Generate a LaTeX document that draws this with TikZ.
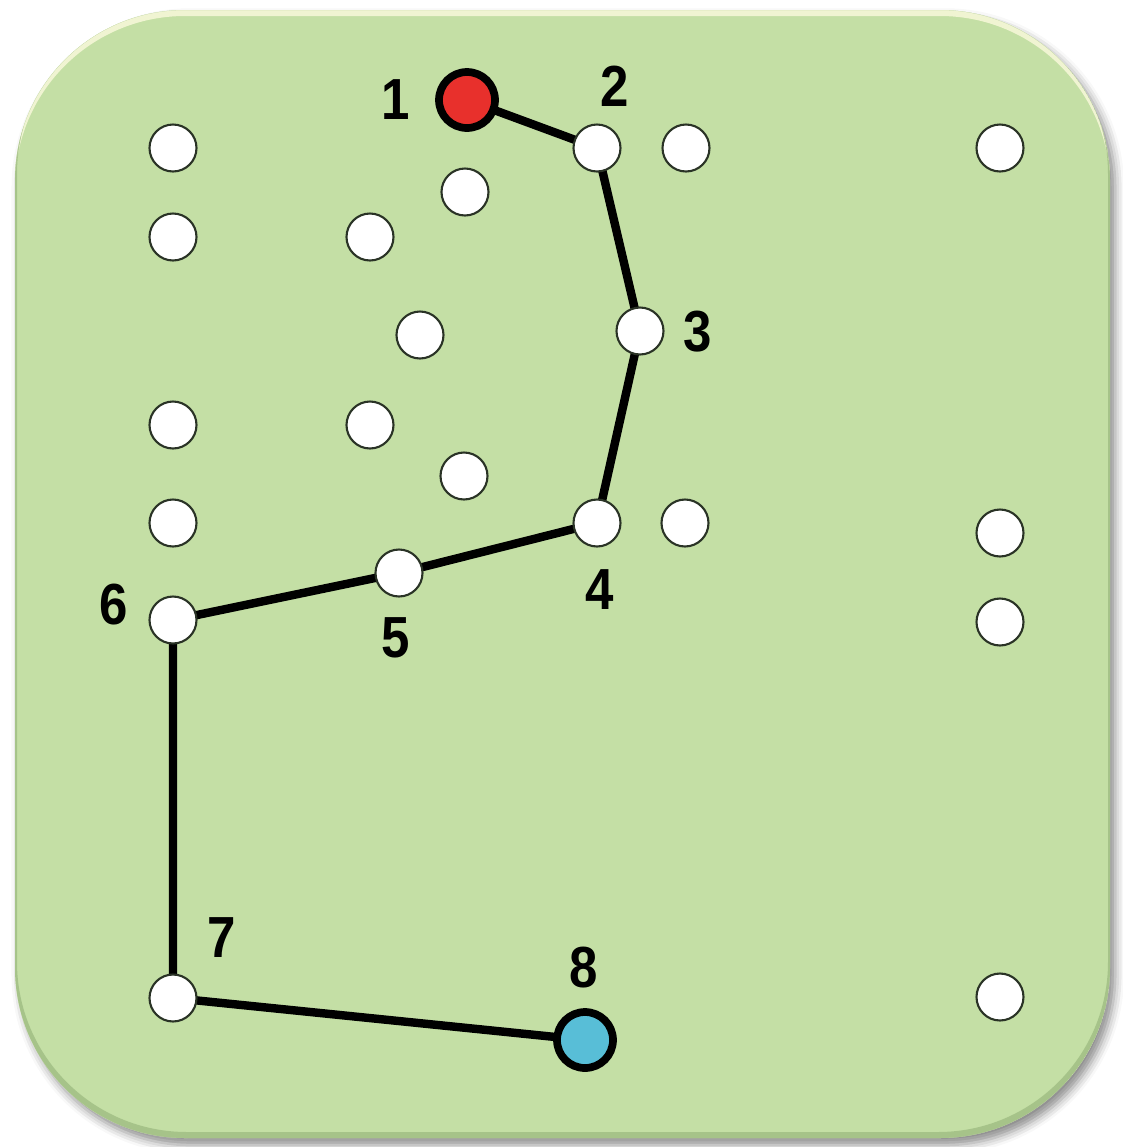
\documentclass[tikz,border=0pt]{standalone}
\usepackage{fontspec}
\newfontfamily\lblfont[FakeStretch=0.88]{Liberation Sans}
\usetikzlibrary{shadows.blur}
\definecolor{boardgreen}{HTML}{C4DFA5}
\definecolor{boardedge}{HTML}{9FBD83}
\definecolor{rim}{HTML}{F0F4D2}
\definecolor{pegred}{HTML}{E8302C}
\definecolor{pegblue}{HTML}{58BED7}
\definecolor{pegline}{HTML}{2A3326}
\pgfdeclarelayer{board}
\pgfdeclarelayer{edges}
\pgfsetlayers{board,edges,main}
\begin{document}
\begin{tikzpicture}[x=0.02cm,y=-0.02cm,
  hole/.style={circle,draw=pegline,line width=1.2pt,fill=white,
    minimum size=0.94cm,inner sep=0pt},
  startpeg/.style={circle,draw=black,line width=4.4pt,fill=pegred,
    minimum size=1.12cm,inner sep=0pt},
  endpeg/.style={circle,draw=black,line width=4.4pt,fill=pegblue,
    minimum size=1.12cm,inner sep=0pt},
  route/.style={line width=4.8pt,black},
  num/.style={font=\lblfont\bfseries\fontsize{33}{33}\selectfont,inner sep=0pt},
  boardshape/.style={rounded corners=3.4cm}]
\useasboundingbox (0,0) rectangle (1123,1147);

% board with soft shadow, light top rim and darker lower edge
\begin{pgfonlayer}{board}
  \path[fill=boardgreen,boardshape,
        blur shadow={shadow xshift=3pt,shadow yshift=-4pt,shadow opacity=45,shadow blur radius=5pt}]
    (15,10) rectangle (1110,1138);
  \begin{scope}
    \clip[boardshape] (15,10) rectangle (1110,1138);
    \fill[rim,even odd rule,boardshape] (15,10) rectangle (1110,1138)
      (15,16) rectangle (1110,1144);
    \fill[boardedge,even odd rule,boardshape,opacity=0.8] (15,10) rectangle (1110,1138)
      (17,4) rectangle (1108,1132);
  \end{scope}
\end{pgfonlayer}

% free holes
\node[hole] (h1)  at (173,148) {};
\node[hole] (h2)  at (173,237) {};
\node[hole] (h3)  at (465,192) {};
\node[hole] (h4)  at (370,237) {};
\node[hole] (h5)  at (420,335) {};
\node[hole] (h6)  at (173,425) {};
\node[hole] (h7)  at (370,425) {};
\node[hole] (h8)  at (464,476) {};
\node[hole] (h9)  at (173,523) {};
\node[hole] (h10) at (686,148) {};
\node[hole] (h11) at (1000,148) {};
\node[hole] (h12) at (685,523) {};
\node[hole] (h13) at (1000,533) {};
\node[hole] (h14) at (1000,622) {};
\node[hole] (h15) at (1000,997) {};

% route pegs
\node[startpeg] (p1) at (467,100) {};
\node[hole] (p2) at (597,148) {};
\node[hole] (p3) at (640,331) {};
\node[hole] (p4) at (597,523) {};
\node[hole] (p5) at (399,573) {};
\node[hole] (p6) at (173,620) {};
\node[hole] (p7) at (173,998) {};
\node[endpeg] (p8) at (585,1040) {};

% route
\begin{pgfonlayer}{edges}
  \draw[route] (p1.center) -- (p2.center) -- (p3.center) -- (p4.center)
    -- (p5.center) -- (p6.center) -- (p7.center) -- (p8.center);
\end{pgfonlayer}

% labels
\node[num] (l1) at (396,100) {1};
\node[num] (l2) at (615,86) {2};
\node[num] (l3) at (698,332) {3};
\node[num] (l4) at (600,590) {4};
\node[num] (l5) at (396,638) {5};
\node[num] (l6) at (114,605) {6};
\node[num] (l7) at (222,938) {7};
\node[num] (l8) at (584,968) {8};
\end{tikzpicture}
\end{document}
